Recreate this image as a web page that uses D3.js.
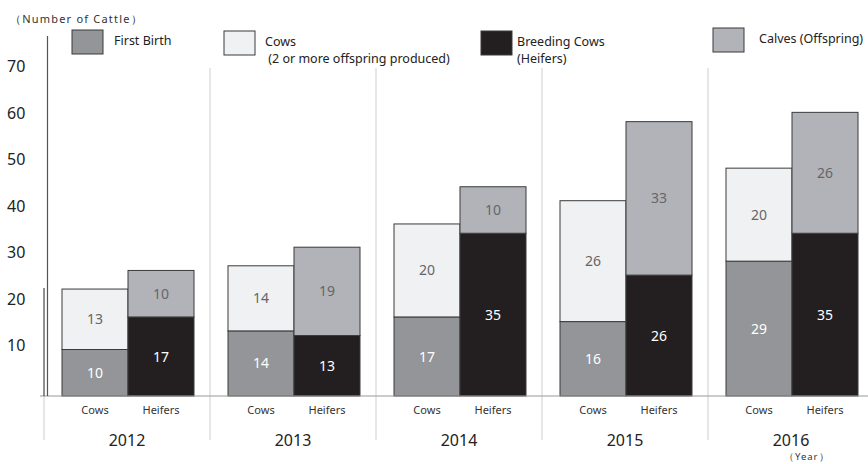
<!DOCTYPE html>
<html>
  <head>
    <meta charset="utf-8">
    <script src="https://d3js.org/d3.v7.min.js"></script>
    <style>
      body { margin: 0; background: #fff; }
      text { font-family: "Noto Sans", "Open Sans", sans-serif; }
    </style>
  </head>
  <body>
    <div id="chart"></div>
  <script>
    // data
    var years = ["2012", "2013", "2014", "2015", "2016"];
    var groups = ["Cows", "Heifers"];
    var firstBirth = [10, 14, 17, 16, 29];
    var multiBirth = [13, 14, 20, 26, 20];
    var heifers = [17, 13, 35, 26, 35];
    var calves = [10, 19, 10, 33, 26];
    var yTicks = [10, 20, 30, 40, 50, 60, 70];

    var legendItems = [
      { lines: ["First Birth"], color: "#939598" },
      { lines: ["Cows", " (2 or more offspring produced)"], color: "#f0f1f3" },
      { lines: ["Breeding Cows", "(Heifers)"], color: "#231f20" },
      { lines: ["Calves (Offspring)"], color: "#b1b3b9" }
    ];

    var width = 868, height = 464;
    var base = 396;

    var svg = d3.select("#chart")
                .append("svg")
                  .attr("width", width)
                  .attr("height", height);

    var x = d3.scaleBand().domain(years).range([44, 874]);
    var xInner = d3.scaleBand().domain(groups).range([18, 150]);
    var y = d3.scaleLinear().domain([0, 70]).range([base, base - 70 * 4.65]);

    // build segments for each bar
    var segs = [];
    years.forEach(function(yr, i) {
      segs.push({ year: yr, group: "Cows", y0: 0, y1: firstBirth[i], v: firstBirth[i], fill: "#939598", lab: "#fff" });
      segs.push({ year: yr, group: "Cows", y0: firstBirth[i], y1: firstBirth[i] + multiBirth[i], v: multiBirth[i], fill: "#f0f1f3", lab: "#666" });
      segs.push({ year: yr, group: "Heifers", y0: 0, y1: heifers[i], v: heifers[i], fill: "#231f20", lab: "#fff" });
      segs.push({ year: yr, group: "Heifers", y0: heifers[i], y1: heifers[i] + calves[i], v: calves[i], fill: "#b1b3b9", lab: "#666" });
    });

    // category separators
    svg.selectAll(".sep")
       .data(years)
       .enter()
       .append("line")
       .attr("x1", function(d) { return x(d); })
       .attr("x2", function(d) { return x(d); })
       .attr("y1", function(d, i) { return i == 0 ? base : 68; })
       .attr("y2", 440)
       .style("stroke", "#cfcfd3")
       .style("stroke-width", 1);

    // bars
    svg.selectAll(".seg")
       .data(segs)
       .enter()
       .append("rect")
       .attr("x", function(d) { return x(d.year) + xInner(d.group); })
       .attr("width", xInner.bandwidth())
       .attr("y", function(d) { return y(d.y1); })
       .attr("height", function(d) { return y(d.y0) - y(d.y1); })
       .style("fill", function(d) { return d.fill; })
       .style("stroke", "#3a3a3a")
       .style("stroke-width", 1);

    svg.selectAll(".val")
       .data(segs)
       .enter()
       .append("text")
       .attr("x", function(d) { return x(d.year) + xInner(d.group) + xInner.bandwidth() / 2; })
       .attr("y", function(d) { return (y(d.y0) + y(d.y1)) / 2; })
       .attr("dy", "0.36em")
       .style("text-anchor", "middle")
       .style("font-size", "14px")
       .style("fill", function(d) { return d.lab; })
       .text(function(d) { return d.v; });

    // axes lines
    svg.append("line")
       .attr("x1", 40).attr("x2", width)
       .attr("y1", base).attr("y2", base)
       .style("stroke", "#999").style("stroke-width", 1.2);

    svg.append("line")
       .attr("x1", 47.5).attr("x2", 47.5)
       .attr("y1", 36).attr("y2", base)
       .style("stroke", "#555").style("stroke-width", 1.2);

    svg.append("line")
       .attr("x1", 44).attr("x2", 44)
       .attr("y1", 288).attr("y2", base)
       .style("stroke", "#222").style("stroke-width", 1);

    // y tick labels
    svg.selectAll(".ytick")
       .data(yTicks)
       .enter()
       .append("text")
       .attr("x", 7)
       .attr("y", function(d) { return y(d) - 4; })
       .attr("dy", "0.36em")
       .style("font-size", "16px")
       .style("fill", "#222")
       .text(function(d) { return d; });

    // x labels
    years.forEach(function(yr) {
      groups.forEach(function(g) {
        svg.append("text")
           .attr("x", x(yr) + xInner(g) + xInner.bandwidth() / 2)
           .attr("y", 414)
           .style("text-anchor", "middle")
           .style("font-size", "11px")
           .style("fill", "#333")
           .text(g);
      });
    });

    svg.selectAll(".year")
       .data(years)
       .enter()
       .append("text")
       .attr("x", function(d) { return x(d) + 83; })
       .attr("y", 446)
       .style("text-anchor", "middle")
       .style("font-size", "16px")
       .style("fill", "#222")
       .text(function(d) { return d; });

    svg.append("text")
       .attr("x", 784).attr("y", 460)
       .style("font-size", "9.5px")
       .style("letter-spacing", "1px")
       .style("fill", "#333")
       .text("（Year）");

    svg.append("text")
       .attr("x", 10).attr("y", 23)
       .style("font-size", "11px")
       .style("letter-spacing", "1.2px")
       .style("fill", "#333")
       .text("（Number of Cattle）");

    // legend
    var legX = [72, 224, 481, 713];
    var legY = [30, 31, 31, 28];
    var legTx = [114, 265, 517, 759];
    var leg = svg.selectAll(".leg")
                 .data(legendItems)
                 .enter()
                 .append("g");

    leg.append("rect")
       .attr("x", function(d, i) { return legX[i]; })
       .attr("y", function(d, i) { return legY[i]; })
       .attr("width", 31)
       .attr("height", 24)
       .style("fill", function(d) { return d.color; })
       .style("stroke", "#3a3a3a")
       .style("stroke-width", 1);

    leg.each(function(d, i) {
      var t = d3.select(this).append("text")
                .attr("x", legTx[i])
                .attr("y", legY[i] + 15)
                .style("font-size", "12.5px")
                .style("fill", "#222");
      d.lines.forEach(function(l, j) {
        t.append("tspan")
         .attr("x", legTx[i])
         .attr("dy", j == 0 ? 0 : 17)
         .text(l);
      });
    });
  </script>
  </body>
</html>
